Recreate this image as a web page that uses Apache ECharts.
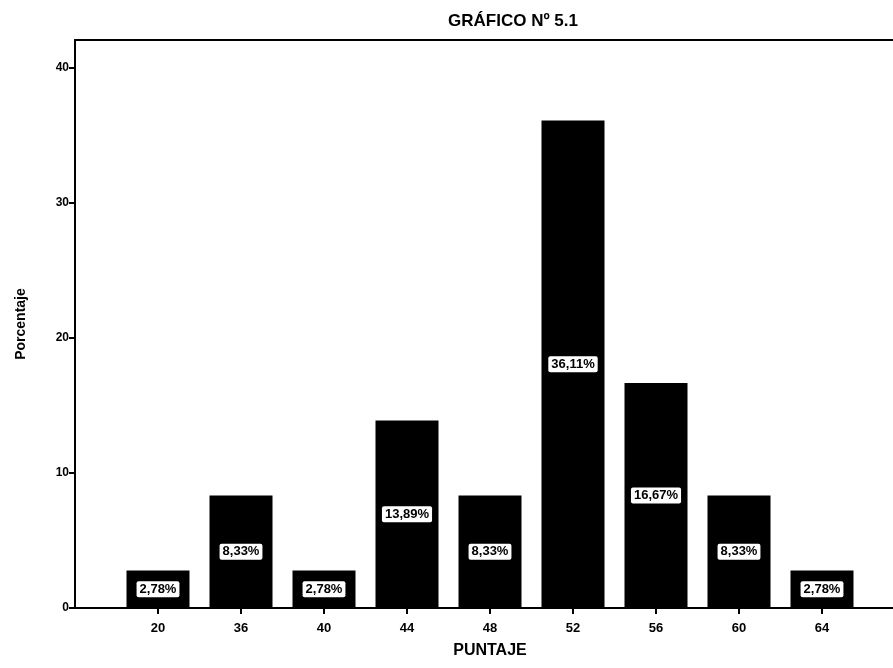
<!DOCTYPE html>
<html>
<head>
<meta charset="utf-8">
<script src="https://cdn.jsdelivr.net/npm/echarts@6/dist/echarts.min.js"></script>
<style>
html,body{margin:0;padding:0;background:#fff;}
#chart{width:893px;height:668px;}
</style>
</head>
<body>
<div id="chart"></div>
<script>
const titleText = 'GRÁFICO Nº 5.1';
const xAxisName = 'PUNTAJE';
const yAxisName = 'Porcentaje';
const categories = ['20', '36', '40', '44', '48', '52', '56', '60', '64'];
const percentages = [2.78, 8.33, 2.78, 13.89, 8.33, 36.11, 16.67, 8.33, 2.78];
const yTicks = [0, 10, 20, 30, 40];

const font = '"Liberation Sans", Arial, sans-serif';
const yMax = 42.07;
const frameLine = {show: true, onZero: false, lineStyle: {color: '#000', width: 2}};

const chart = echarts.init(document.getElementById('chart'), null, {renderer: 'canvas'});
chart.setOption({
  animation: false,
  backgroundColor: '#fff',
  title: {
    text: titleText,
    left: 508, top: 8, textAlign: 'center',
    textStyle: {fontFamily: font, fontSize: 17, fontWeight: 'bold', color: '#000'}
  },
  grid: [
    {left: 75, right: 0, top: 40, bottom: 60},
    {left: 116.5, right: 29.5, top: 40, bottom: 60}
  ],
  xAxis: [
    {gridIndex: 0, type: 'value', min: 0, max: 1, position: 'bottom',
     axisLine: frameLine,
     axisTick: {show: false}, axisLabel: {show: false}, splitLine: {show: false}},
    {gridIndex: 0, type: 'value', min: 0, max: 1, position: 'top',
     axisLine: frameLine,
     axisTick: {show: false}, axisLabel: {show: false}, splitLine: {show: false}},
    {gridIndex: 1, type: 'category', data: categories,
     axisLine: {show: false},
     axisTick: {show: true, alignWithLabel: true, length: 6, lineStyle: {color: '#000', width: 2}},
     axisLabel: {fontFamily: font, fontSize: 13, fontWeight: 'bold', color: '#000', margin: 14},
     splitLine: {show: false},
     name: xAxisName, nameLocation: 'middle', nameGap: 35,
     nameTextStyle: {fontFamily: font, fontSize: 16, fontWeight: 'bold', color: '#000'}}
  ],
  yAxis: [
    {gridIndex: 0, type: 'value', min: 0, max: yMax, interval: 10,
     axisLine: frameLine,
     axisTick: {show: true, length: 6, customValues: yTicks, lineStyle: {color: '#000', width: 2}},
     axisLabel: {fontFamily: font, fontSize: 12, fontWeight: 'bold', color: '#000', margin: 6,
       customValues: yTicks},
     splitLine: {show: false},
     name: yAxisName, nameLocation: 'middle', nameGap: 47, nameRotate: 90,
     nameTextStyle: {fontFamily: font, fontSize: 14, fontWeight: 'bold', color: '#000'}},
    {gridIndex: 1, type: 'value', min: 0, max: yMax, show: false}
  ],
  series: [{
    type: 'bar',
    xAxisIndex: 2, yAxisIndex: 1,
    data: percentages,
    barWidth: 63,
    itemStyle: {color: '#000'},
    label: {
      show: true, position: 'inside',
      formatter: p => p.value.toFixed(2).replace('.', ',') + '%',
      fontFamily: font, fontSize: 13, fontWeight: 'bold', color: '#000',
      backgroundColor: '#fff', borderColor: '#000', borderWidth: 1, borderRadius: 2,
      padding: [2, 3, 1, 3]
    }
  }]
});
</script>
</body>
</html>
